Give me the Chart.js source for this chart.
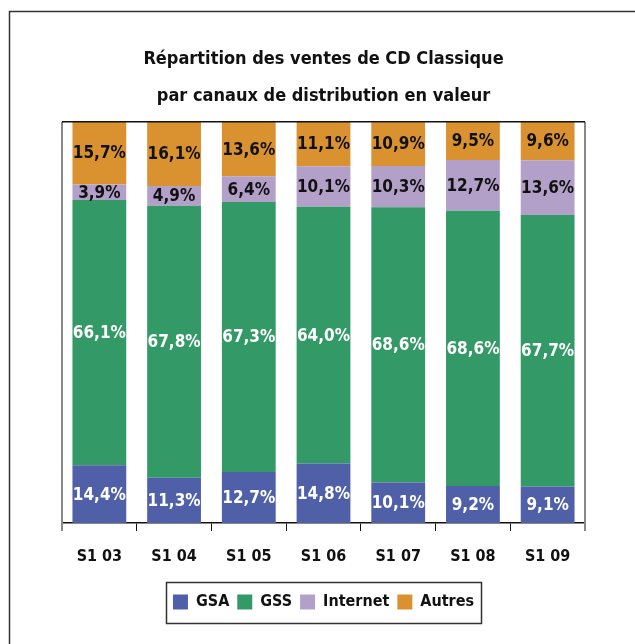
<!DOCTYPE html>
<html lang="fr">
<head>
<meta charset="utf-8">
<title>Répartition des ventes de CD Classique</title>
<script src="https://cdn.jsdelivr.net/npm/chart.js@4/dist/chart.umd.min.js"></script>
<style>
    html, body { margin: 0; padding: 0; background: #fff; }
    #wrap { width: 635px; height: 644px; position: relative; }
</style>
</head>
<body>
<div id="wrap"><canvas id="chart-ventes"></canvas></div>
<script>
const FONT = "'DejaVu Sans Condensed', 'Liberation Sans Narrow', sans-serif";

const periods = ['S1 03', 'S1 04', 'S1 05', 'S1 06', 'S1 07', 'S1 08', 'S1 09'];
const gsa = [14.4, 11.3, 12.7, 14.8, 10.1, 9.2, 9.1];
const gss = [66.1, 67.8, 67.3, 64.0, 68.6, 68.6, 67.7];
const internet = [3.9, 4.9, 6.4, 10.1, 10.3, 12.7, 13.6];
const autres = [15.7, 16.1, 13.6, 11.1, 10.9, 9.5, 9.6];

const fmtPct = (v) => `${v.toFixed(1).replace('.', ',')}%`;

// labels inside each segment
const segmentLabels = {
    id: 'segmentLabels',
    afterDatasetsDraw(chart) {
        const { ctx } = chart;
        ctx.save();
        ctx.font = `bold 17px ${FONT}`;
        ctx.textAlign = 'center';
        ctx.textBaseline = 'middle';
        chart.data.datasets.forEach((ds, i) => {
            const meta = chart.getDatasetMeta(i);
            ctx.fillStyle = i < 2 ? '#ffffff' : '#111111';
            meta.data.forEach((bar, j) => {
                const y = (bar.y + bar.base) / 2;
                ctx.fillText(fmtPct(ds.data[j]), bar.x, y + 1);
            });
        });
        ctx.restore();
    },
};

// plot frame, outer frame and legend box
const frames = {
    id: 'frames',
    afterDraw(chart) {
        const { ctx, chartArea: a, legend } = chart;
        ctx.save();
        // outer frame
        ctx.strokeStyle = '#333';
        ctx.lineWidth = 1.5;
        ctx.beginPath();
        ctx.moveTo(9.5, 700);
        ctx.lineTo(9.5, 11.5);
        ctx.lineTo(700, 11.5);
        ctx.stroke();
        // plot area sides
        ctx.lineWidth = 2;
        ctx.strokeStyle = '#888';
        ctx.beginPath();
        ctx.moveTo(a.left, a.top);
        ctx.lineTo(a.left, a.bottom + 8);
        ctx.moveTo(a.right, a.top);
        ctx.lineTo(a.right, a.bottom + 8);
        ctx.stroke();
        ctx.lineWidth = 1.5;
        ctx.strokeStyle = '#111';
        ctx.beginPath();
        ctx.moveTo(a.left, a.top);
        ctx.lineTo(a.right, a.top);
        ctx.stroke();
        // legend box
        const boxes = legend.legendHitBoxes || [];
        if (boxes.length) {
            const l = Math.min(...boxes.map((b) => b.left)) - 7;
            const r = Math.max(...boxes.map((b) => b.left + b.width)) + 7;
            const cy = boxes[0].top + boxes[0].height / 2;
            ctx.strokeStyle = '#333';
            ctx.lineWidth = 1.5;
            ctx.strokeRect(Math.round(l) + 0.5, Math.round(cy - 20.5) + 0.5, Math.round(r - l), 41);
        }
        ctx.restore();
    },
};

new Chart(document.getElementById('chart-ventes'), {
    type: 'bar',
    data: {
        labels: periods,
        datasets: [
            { label: 'GSA', data: gsa, backgroundColor: '#4f5fa8' },
            { label: 'GSS', data: gss, backgroundColor: '#339966' },
            { label: 'Internet', data: internet, backgroundColor: '#b3a0c8' },
            { label: 'Autres', data: autres, backgroundColor: '#da9230' },
        ],
    },
    options: {
        responsive: true,
        maintainAspectRatio: false,
        animation: false,
        devicePixelRatio: 1,
        layout: { padding: { left: 62, right: 50, top: 41, bottom: 24 } },
        datasets: { bar: { barPercentage: 0.72, categoryPercentage: 1 } },
        plugins: {
            title: {
                display: true,
                text: ['Répartition des ventes de CD Classique', 'par canaux de distribution en valeur'],
                color: '#111',
                font: { family: FONT, size: 18, weight: 'bold', lineHeight: 2.05 },
                padding: { top: 0, bottom: 7 },
            },
            legend: {
                position: 'bottom',
                labels: {
                    color: '#111',
                    font: { family: FONT, size: 16, weight: 'bold' },
                    boxWidth: 15,
                    boxHeight: 15,
                    padding: 8,
                },
            },
            tooltip: { enabled: false },
        },
        scales: {
            x: {
                stacked: true,
                afterFit: (scale) => { scale.height = 63; },
                grid: { display: true, drawOnChartArea: false, tickLength: 8, color: '#111', offset: true },
                border: { display: true, color: '#111', width: 1.5 },
                ticks: { color: '#111', padding: 16, font: { family: FONT, size: 16, weight: 'bold' } },
            },
            y: {
                stacked: true,
                display: false,
                min: 0,
                max: 100,
            },
        },
    },
    plugins: [segmentLabels, frames],
});
</script>
</body>
</html>
